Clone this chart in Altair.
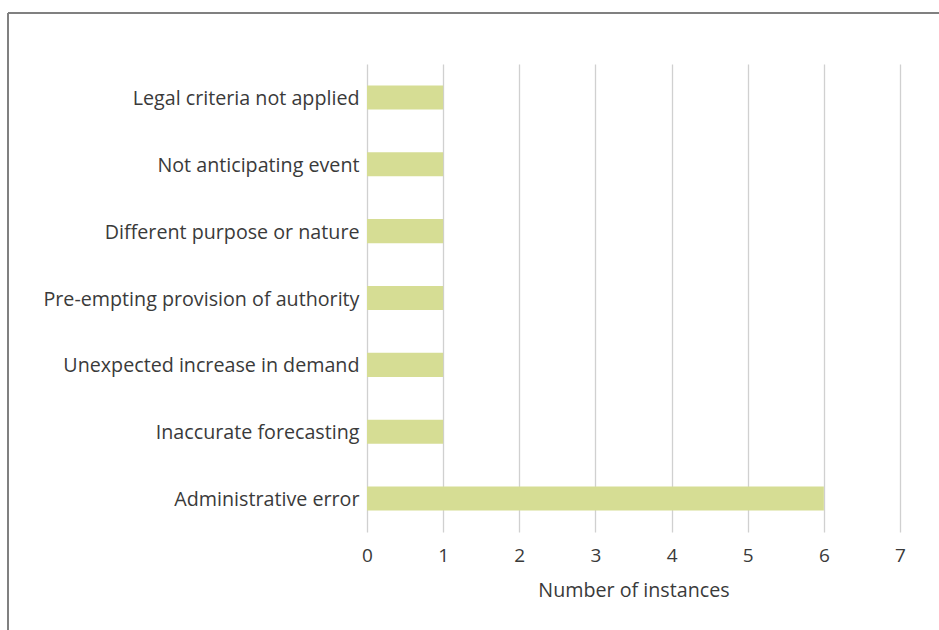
import altair as alt
import pandas as pd

categories = [
    "Legal criteria not applied",
    "Not anticipating event",
    "Different purpose or nature",
    "Pre-empting provision of authority",
    "Unexpected increase in demand",
    "Inaccurate forecasting",
    "Administrative error",
]
values = [1, 1, 1, 1, 1, 1, 6]

df = pd.DataFrame({"category": categories, "value": values})

FONT = "Open Sans"
TXT = "#3a3a3a"

bars = alt.Chart(df).mark_bar(color="#d6dd94").encode(
    y=alt.Y(
        "category:N",
        sort=categories,
        title=None,
        scale=alt.Scale(paddingInner=0.64, paddingOuter=0.32),
        axis=alt.Axis(
            labelFont=FONT, labelFontSize=19.7, labelColor=TXT, labelPadding=8,
            labelOffset=1.5,
            ticks=False, domain=False, grid=False, labelLimit=400,
        ),
    ),
    x=alt.X(
        "value:Q",
        title="Number of instances",
        scale=alt.Scale(domain=[0, 7], nice=False),
        axis=alt.Axis(
            values=[0, 1, 2, 3, 4, 5, 6, 7], format="d",
            labelFont=FONT, labelFontSize=19, labelColor=TXT, labelPadding=14,
            labelFlush=False, labelAlign="center", labelBound=False,
            titleFont=FONT, titleFontSize=19.7, titleColor=TXT, titleFontWeight="normal",
            titlePadding=15,
            ticks=False, domain=False, grid=True, gridColor="#d0d0d0", gridWidth=1.3,
        ),
    ),
)

frame_top = alt.Chart(df).mark_rule(color="#808080", strokeWidth=1.5).encode(
    x=alt.value(-359), x2=alt.value(580), y=alt.value(-51)
)
frame_left = alt.Chart(df).mark_rule(color="#808080", strokeWidth=1.5).encode(
    x=alt.value(-359), y=alt.value(-51), y2=alt.value(600)
)

chart = alt.layer(bars, frame_top, frame_left).properties(
    width=533,
    height=468,
    autosize=alt.AutoSizeParams(type="none"),
    padding={"left": 367, "top": 64, "right": 39, "bottom": 98},
).configure(background="white").configure_view(stroke=None)

chart.save("out.html", embed_options={"renderer": "svg", "actions": False})
